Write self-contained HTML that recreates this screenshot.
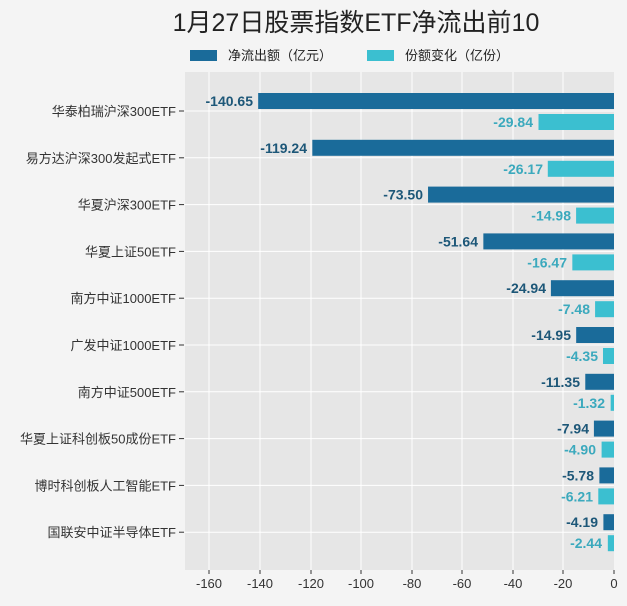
<!DOCTYPE html>
<html><head><meta charset="utf-8"><style>
html,body{margin:0;padding:0;background:#f4f4f4;}
svg{display:block;font-family:"Liberation Sans","Noto Sans CJK SC",sans-serif;}
</style></head><body>
<svg width="627" height="606" viewBox="0 0 627 606" xmlns="http://www.w3.org/2000/svg">
<rect width="627" height="606" fill="#f4f4f4"/>
<text x="356" y="31" font-size="25" text-anchor="middle" fill="#222">1月27日股票指数ETF净流出前10</text>
<rect x="190" y="50" width="27" height="11" fill="#1a6b9a"/>
<text x="228" y="60" font-size="13" fill="#222">净流出额（亿元）</text>
<rect x="367" y="50" width="27" height="11" fill="#3bbfd0"/>
<text x="405" y="60" font-size="13" fill="#222">份额变化（亿份）</text>
<rect x="185" y="72" width="429" height="498" fill="#e6e6e6"/>
<g stroke="#ffffff" stroke-width="1">
<line x1="209" y1="72" x2="209" y2="570"/><line x1="260" y1="72" x2="260" y2="570"/>
<line x1="311" y1="72" x2="311" y2="570"/><line x1="361" y1="72" x2="361" y2="570"/>
<line x1="412" y1="72" x2="412" y2="570"/><line x1="462" y1="72" x2="462" y2="570"/>
<line x1="513" y1="72" x2="513" y2="570"/><line x1="563" y1="72" x2="563" y2="570"/>
<line x1="185" x2="614" y1="111" y2="111"/><line x1="185" x2="614" y1="157.8" y2="157.8"/>
<line x1="185" x2="614" y1="204.6" y2="204.6"/><line x1="185" x2="614" y1="251.4" y2="251.4"/>
<line x1="185" x2="614" y1="298.2" y2="298.2"/><line x1="185" x2="614" y1="345" y2="345"/>
<line x1="185" x2="614" y1="391.8" y2="391.8"/><line x1="185" x2="614" y1="438.6" y2="438.6"/>
<line x1="185" x2="614" y1="485.4" y2="485.4"/><line x1="185" x2="614" y1="532.2" y2="532.2"/>
</g>
<g stroke="#333">
<line x1="179" x2="184" y1="111" y2="111"/><line x1="179" x2="184" y1="157.8" y2="157.8"/>
<line x1="179" x2="184" y1="204.6" y2="204.6"/><line x1="179" x2="184" y1="251.4" y2="251.4"/>
<line x1="179" x2="184" y1="298.2" y2="298.2"/><line x1="179" x2="184" y1="345" y2="345"/>
<line x1="179" x2="184" y1="391.8" y2="391.8"/><line x1="179" x2="184" y1="438.6" y2="438.6"/>
<line x1="179" x2="184" y1="485.4" y2="485.4"/><line x1="179" x2="184" y1="532.2" y2="532.2"/>
</g>
<g font-size="13" fill="#333" text-anchor="end">
<text x="176" y="116">华泰柏瑞沪深300ETF</text>
<text x="176" y="162.8">易方达沪深300发起式ETF</text>
<text x="176" y="209.6">华夏沪深300ETF</text>
<text x="176" y="256.4">华夏上证50ETF</text>
<text x="176" y="303.2">南方中证1000ETF</text>
<text x="176" y="350">广发中证1000ETF</text>
<text x="176" y="396.8">南方中证500ETF</text>
<text x="176" y="443.6">华夏上证科创板50成份ETF</text>
<text x="176" y="490.4">博时科创板人工智能ETF</text>
<text x="176" y="537.2">国联安中证半导体ETF</text>
</g>
<g fill="#1a6b9a">
<rect x="258.16" y="93" width="355.84" height="16"/>
<rect x="312.32" y="139.8" width="301.68" height="16"/>
<rect x="428.04" y="186.6" width="185.96" height="16"/>
<rect x="483.35" y="233.4" width="130.65" height="16"/>
<rect x="550.9" y="280.2" width="63.1" height="16"/>
<rect x="576.18" y="327" width="37.82" height="16"/>
<rect x="585.28" y="373.8" width="28.72" height="16"/>
<rect x="593.91" y="420.6" width="20.09" height="16"/>
<rect x="599.38" y="467.4" width="14.62" height="16"/>
<rect x="603.4" y="514.2" width="10.6" height="16"/>
</g>
<g fill="#3bbfd0">
<rect x="538.5" y="114" width="75.5" height="16"/>
<rect x="547.79" y="160.8" width="66.21" height="16"/>
<rect x="576.1" y="207.6" width="37.9" height="16"/>
<rect x="572.33" y="254.4" width="41.67" height="16"/>
<rect x="595.08" y="301.2" width="18.92" height="16"/>
<rect x="602.99" y="348" width="11.01" height="16"/>
<rect x="610.66" y="394.8" width="3.34" height="16"/>
<rect x="601.6" y="441.6" width="12.4" height="16"/>
<rect x="598.29" y="488.4" width="15.71" height="16"/>
<rect x="607.83" y="535.2" width="6.17" height="16"/>
</g>
<g font-size="14" font-weight="bold" fill="#1d5778" text-anchor="end">
<text x="253" y="106">-140.65</text>
<text x="307" y="152.8">-119.24</text>
<text x="423" y="199.6">-73.50</text>
<text x="478" y="246.4">-51.64</text>
<text x="546" y="293.2">-24.94</text>
<text x="571" y="340">-14.95</text>
<text x="580" y="386.8">-11.35</text>
<text x="589" y="433.6">-7.94</text>
<text x="594" y="480.4">-5.78</text>
<text x="598" y="527.2">-4.19</text>
</g>
<g font-size="14" font-weight="bold" fill="#3ba9bd" text-anchor="end">
<text x="533" y="127">-29.84</text>
<text x="543" y="173.8">-26.17</text>
<text x="571" y="220.6">-14.98</text>
<text x="567" y="267.4">-16.47</text>
<text x="590" y="314.2">-7.48</text>
<text x="598" y="361">-4.35</text>
<text x="605" y="407.8">-1.32</text>
<text x="596" y="454.6">-4.90</text>
<text x="593" y="501.4">-6.21</text>
<text x="602" y="548.2">-2.44</text>
</g>
<g font-size="13" fill="#333" text-anchor="middle">
<text x="209" y="588">-160</text><text x="260" y="588">-140</text><text x="311" y="588">-120</text>
<text x="361" y="588">-100</text><text x="412" y="588">-80</text><text x="462" y="588">-60</text>
<text x="513" y="588">-40</text><text x="563" y="588">-20</text><text x="614" y="588">0</text>
</g>
<g stroke="#333">
<line x1="209" y1="570" x2="209" y2="574"/><line x1="260" y1="570" x2="260" y2="574"/><line x1="311" y1="570" x2="311" y2="574"/>
<line x1="361" y1="570" x2="361" y2="574"/><line x1="412" y1="570" x2="412" y2="574"/><line x1="462" y1="570" x2="462" y2="574"/>
<line x1="513" y1="570" x2="513" y2="574"/><line x1="563" y1="570" x2="563" y2="574"/><line x1="614" y1="570" x2="614" y2="574"/>
</g>
</svg>
</body></html>
